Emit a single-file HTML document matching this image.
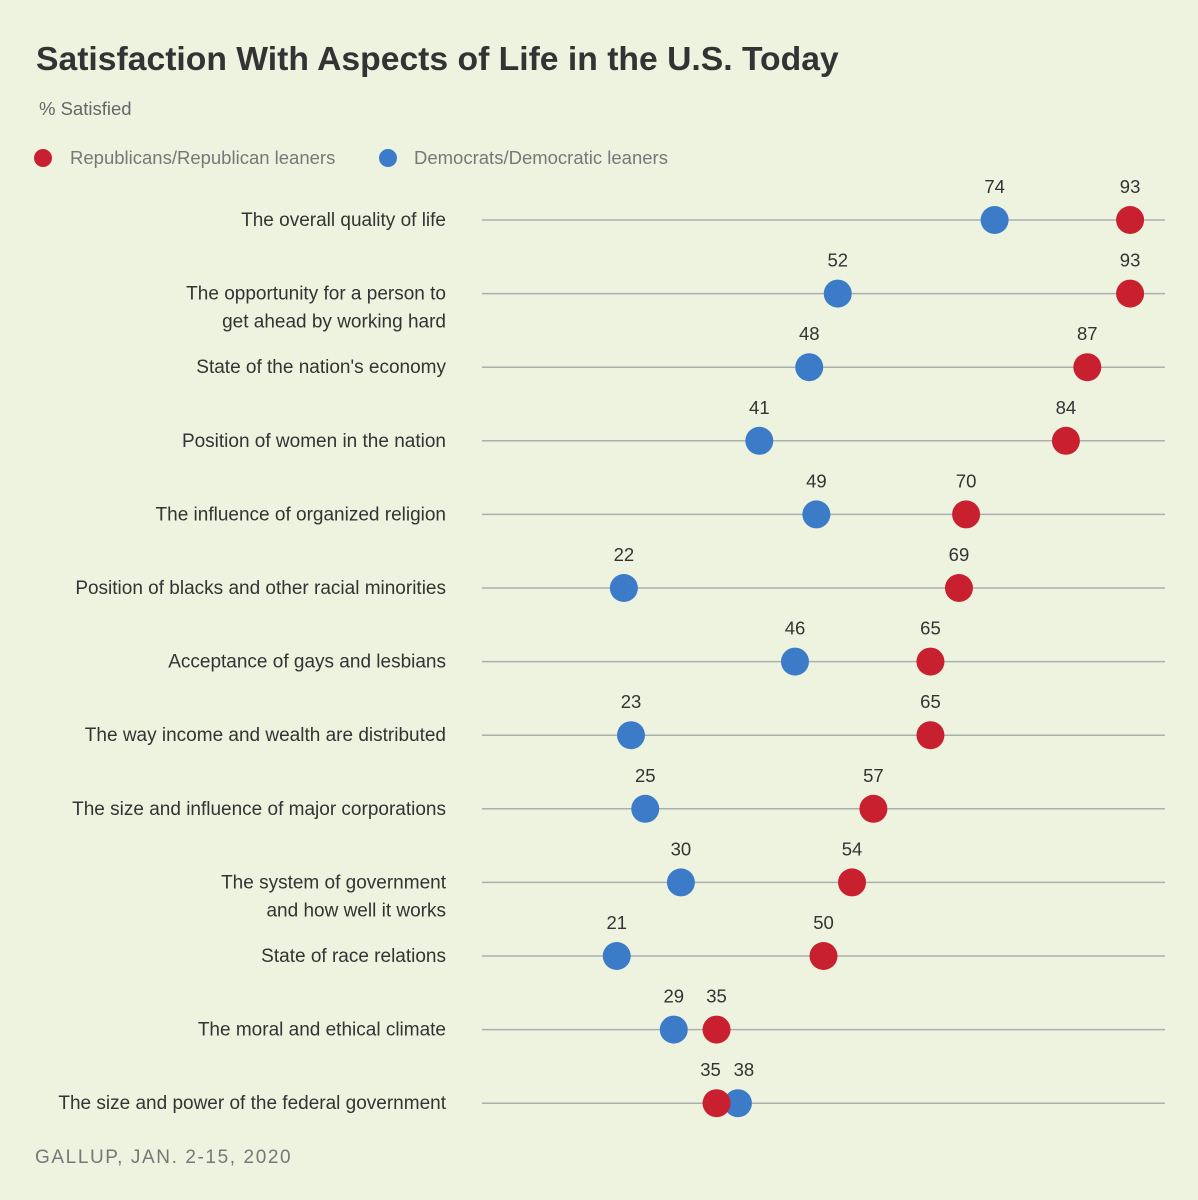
<!DOCTYPE html>
<html><head><meta charset="utf-8"><style>
body{margin:0;background:#eef3e0;font-family:"Liberation Sans",sans-serif;}
svg{display:block}
</style></head><body>
<svg id="chart" width="1198" height="1200">
<rect width="1198" height="1200" fill="#eef3e0"/>
<text x="36" y="70" font-size="33.7" font-weight="bold" fill="#333">Satisfaction With Aspects of Life in the U.S. Today</text>
<text x="39" y="115" font-size="18.5" fill="#666">% Satisfied</text>
<circle cx="43" cy="158" r="9" fill="#c8202f"/>
<text x="70" y="164" font-size="18.5" fill="#777">Republicans/Republican leaners</text>
<circle cx="388" cy="158" r="9" fill="#3b7bc8"/>
<text x="414" y="164" font-size="18.5" fill="#777">Democrats/Democratic leaners</text>
<g id="rows"></g>
<text x="35" y="1163" font-size="19" fill="#777" letter-spacing="1.6">GALLUP, JAN. 2-15, 2020</text>
</svg>
<script>
const categories=[["The overall quality of life"],["The opportunity for a person to","get ahead by working hard"],["State of the nation's economy"],["Position of women in the nation"],["The influence of organized religion"],["Position of blacks and other racial minorities"],["Acceptance of gays and lesbians"],["The way income and wealth are distributed"],["The size and influence of major corporations"],["The system of government","and how well it works"],["State of race relations"],["The moral and ethical climate"],["The size and power of the federal government"]];
const republicans=[93,93,87,84,70,69,65,65,57,54,50,35,35];
const democrats=[74,52,48,41,49,22,46,23,25,30,21,29,38];
const NS="http://www.w3.org/2000/svg";
const g=document.getElementById('rows');
function xs(v){return 467+v*7.13;}
function ys(i){return 220+i*73.6;}
function mk(tag,attrs,text){const e=document.createElementNS(NS,tag);for(const k in attrs)e.setAttribute(k,attrs[k]);if(text!==undefined)e.textContent=text;g.appendChild(e);return e;}
categories.forEach((c,i)=>{
 const y=ys(i);
 const ln=mk('line',{x1:482,x2:1165,y1:y,y2:y,stroke:'#aab0b0','stroke-width':1.5});
 
 
 c.forEach((t,j)=>{
  const tx=mk('text',{x:446,y:y+6+j*28,'text-anchor':'end','font-size':19,fill:'#333'},t);
  
  
 });
 const close=Math.abs(republicans[i]-democrats[i])<5;
 const order=republicans[i]<democrats[i]?[['rep',republicans[i],'#c8202f'],['dem',democrats[i],'#3b7bc8']]:[['dem',democrats[i],'#3b7bc8'],['rep',republicans[i],'#c8202f']];
 order.slice().reverse().forEach(([k,v,col],idx)=>{
  const cc=mk('circle',{cx:xs(v),cy:y,r:14,fill:col});
  
  
  const off=close?(idx===0?6:-6):0;
  const vl=mk('text',{x:xs(v)+off,y:y-27,'text-anchor':'middle','font-size':18.5,fill:'#333'},String(v));
  
  
 });
});
</script>
</body></html>
